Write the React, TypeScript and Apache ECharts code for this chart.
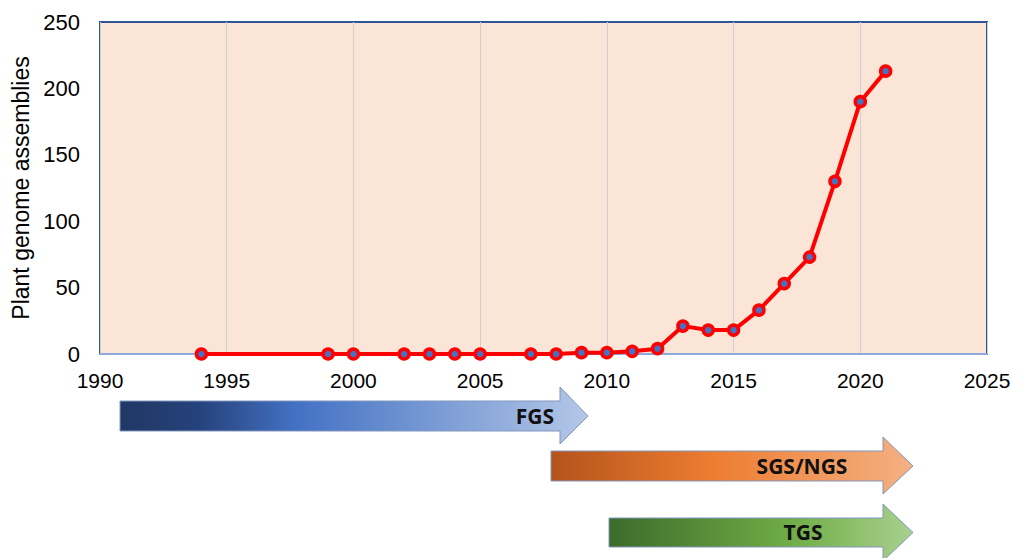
import React, { useEffect, useRef } from "react";
import * as echarts from "echarts";

const years = [1994, 1999, 2000, 2002, 2003, 2004, 2005, 2007, 2008, 2009, 2010, 2011, 2012, 2013, 2014, 2015, 2016, 2017, 2018, 2019, 2020, 2021];
const assemblies = [0, 0, 0, 0, 0, 0, 0, 0, 0, 1, 1, 2, 4, 21, 18, 18, 33, 53, 73, 130, 190, 213];
const xTicks = [1990, 1995, 2000, 2005, 2010, 2015, 2020, 2025];
const yTicks = [0, 50, 100, 150, 200, 250];
const eraLabels = ["FGS", "SGS/NGS", "TGS"];

function arrow(x0: number, x1: number, tip: number, bodyTop: number, bodyBot: number, headTop: number, headBot: number, stops: [number, string][]) {
  const cy = (bodyTop + bodyBot) / 2;
  return {
    type: "polygon",
    shape: {
      points: [
        [x0, bodyTop], [x1, bodyTop], [x1, headTop], [tip, cy], [x1, headBot], [x1, bodyBot], [x0, bodyBot],
      ],
    },
    style: {
      fill: new echarts.graphic.LinearGradient(0, 0, 1, 0, stops.map(([offset, color]) => ({ offset, color }))),
      stroke: "#8297BF",
      lineWidth: 1,
    },
    silent: true,
  };
}

export default function App() {
  const ref = useRef<HTMLDivElement>(null);
  useEffect(() => {
    document.body.style.margin = "0";
    const chart = echarts.init(ref.current!, null, { renderer: "svg" });
    const font = "'Liberation Sans', Arial, sans-serif";
    const labelFont = "'Open Sans', 'Liberation Sans', sans-serif";
    chart.setOption({
      animation: false,
      grid: {
        left: 100, top: 22, width: 887, height: 332,
        show: true, backgroundColor: "#FBE5D6", borderColor: "#2F5597", borderWidth: 2,
      },
      xAxis: {
        type: "value", min: xTicks[0], max: xTicks[xTicks.length - 1], interval: 5,
        axisLine: { show: true, lineStyle: { color: "#8EA9DB", width: 2 } },
        axisTick: { show: false },
        splitLine: { show: true, lineStyle: { color: "#D0D0D0", width: 1 } },
        axisLabel: { color: "#000", fontSize: 21, fontFamily: font, margin: 16, formatter: (v: number) => String(v) },
      },
      yAxis: {
        type: "value", min: yTicks[0], max: yTicks[yTicks.length - 1], interval: 50,
        name: "Plant genome assemblies", nameLocation: "middle", nameGap: 56,
        nameTextStyle: { color: "#000", fontSize: 23, fontFamily: font },
        axisLine: { show: false }, axisTick: { show: false }, splitLine: { show: false },
        axisLabel: { color: "#000", fontSize: 22, fontFamily: font, margin: 20 },
      },
      series: [{
        type: "line",
        data: years.map((y, i) => [y, assemblies[i]]),
        symbol: "circle", symbolSize: 10,
        lineStyle: { color: "#FF0000", width: 4 },
        itemStyle: { color: "#4472C4", borderColor: "#FF0000", borderWidth: 3.5 },
        z: 5,
      }],
      graphic: [
        arrow(120, 560, 588, 401, 431, 387, 444, [[0, "#203864"], [0.17, "#26427C"], [0.38, "#4472C4"], [1, "#B4C7E7"]]),
        arrow(551, 883, 913, 451, 481, 437, 494, [[0, "#B4531B"], [0.45, "#ED7D31"], [1, "#F4B183"]]),
        arrow(609, 883, 913, 518, 547, 504, 561, [[0, "#3D6B2A"], [0.6, "#70AD47"], [1, "#A9D18E"]]),
        { type: "text", x: 535, y: 416, style: { text: eraLabels[0], font: `bold 21px ${labelFont}`, fill: "#111", align: "center", verticalAlign: "middle" } },
        { type: "text", x: 802, y: 466, style: { text: eraLabels[1], font: `bold 21px ${labelFont}`, fill: "#111", align: "center", verticalAlign: "middle" } },
        { type: "text", x: 803, y: 532, style: { text: eraLabels[2], font: `bold 21px ${labelFont}`, fill: "#111", align: "center", verticalAlign: "middle" } },
      ],
    });
    return () => chart.dispose();
  }, []);
  return <div ref={ref} style={{ width: 1024, height: 558 }} />;
}
